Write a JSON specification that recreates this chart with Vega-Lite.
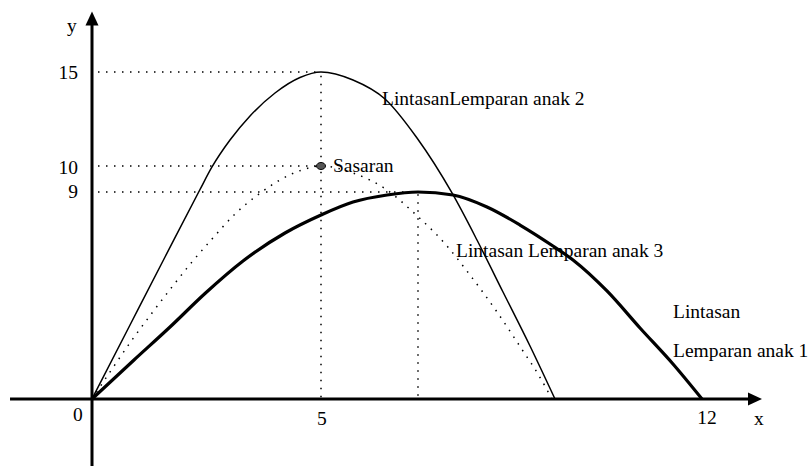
{
  "$schema": "https://vega.github.io/schema/vega-lite/v6.json",
  "width": 809,
  "height": 466,
  "padding": 0,
  "autosize": {"type": "none"},
  "background": "white",
  "config": {
    "view": {"stroke": null},
    "text": {"font": "Liberation Serif", "fontSize": 19.5, "color": "black", "baseline": "alphabetic"}
  },
  "encoding": {
    "x": {"field": "x", "type": "quantitative", "axis": null,
          "scale": {"domain": [0, 5, 12], "range": [92, 321, 702], "nice": false, "zero": false}},
    "y": {"field": "y", "type": "quantitative", "axis": null,
          "scale": {"domain": [0, 9, 10, 15], "range": [399, 192, 166, 72], "nice": false, "zero": false}}
  },
  "layer": [
    {
      "data": {"values": [
        {"x": 0.131, "y": 15, "x2": 5, "y2": 15},
        {"x": 0.131, "y": 10, "x2": 4.9, "y2": 10},
        {"x": 0.131, "y": 9, "x2": 6.782, "y2": 9},
        {"x": 5, "y": 14.8, "x2": 5, "y2": 0},
        {"x": 6.782, "y": 8.9, "x2": 6.782, "y2": 0}
      ]},
      "mark": {"type": "rule", "color": "black", "strokeWidth": 1.5, "strokeDash": [1.5, 6.5]},
      "encoding": {"x2": {"field": "x2"}, "y2": {"field": "y2"}}
    },
    {
      "data": {"values": [
        {"x": -1.79, "y": 0, "x2": 12.9, "y2": 0},
        {"x": 0, "y": -2.95, "x2": 0, "y2": 17.5}
      ]},
      "mark": {"type": "rule", "color": "black", "strokeWidth": 3},
      "encoding": {"x2": {"field": "x2"}, "y2": {"field": "y2"}}
    },
    {
      "data": {"values": [{"x": 12.974, "y": 0}]},
      "mark": {"type": "point", "shape": "M-1,-0.93L1,0L-1,0.93Z", "size": 196, "filled": true, "color": "black", "opacity": 1}
    },
    {
      "data": {"values": [{"x": 0, "y": 17.846}]},
      "mark": {"type": "point", "shape": "M-0.93,1L0,-1L0.93,1Z", "size": 196, "filled": true, "color": "black", "opacity": 1}
    },
    {
      "data": {"values": [
        {"x": 0, "y": 0}, {"x": 0.83, "y": 3.217}, {"x": 1.594, "y": 6.174}, {"x": 2.358, "y": 9.096},
        {"x": 2.62, "y": 9.962}, {"x": 3.013, "y": 11.38}, {"x": 3.45, "y": 12.66}, {"x": 3.996, "y": 13.883},
        {"x": 4.541, "y": 14.707}, {"x": 5, "y": 15},
        {"x": 5.588, "y": 14.574}, {"x": 6.176, "y": 13.564}, {"x": 6.764, "y": 11.489}, {"x": 7.407, "y": 8.957},
        {"x": 7.866, "y": 6.913}, {"x": 8.344, "y": 4.652}, {"x": 8.84, "y": 2.304}, {"x": 9.299, "y": 0}
      ]},
      "mark": {"type": "line", "interpolate": "monotone", "color": "black", "strokeWidth": 1.5}
    },
    {
      "data": {"values": [
        {"x": 0, "y": 0}, {"x": 0.437, "y": 1.304}, {"x": 0.873, "y": 2.565}, {"x": 1.31, "y": 3.739},
        {"x": 1.747, "y": 4.87}, {"x": 2.183, "y": 5.957}, {"x": 2.62, "y": 6.957}, {"x": 3.122, "y": 8.043},
        {"x": 3.646, "y": 8.913}, {"x": 4.083, "y": 9.442}, {"x": 4.585, "y": 9.846}, {"x": 5, "y": 10},
        {"x": 5.588, "y": 9.731}, {"x": 6.213, "y": 9.077}, {"x": 6.69, "y": 8.13}, {"x": 7.315, "y": 6.652},
        {"x": 7.737, "y": 5.391}, {"x": 8.234, "y": 3.783}, {"x": 8.711, "y": 2.087}, {"x": 8.987, "y": 1.087},
        {"x": 9.244, "y": 0}
      ]},
      "mark": {"type": "line", "interpolate": "monotone", "color": "black", "strokeWidth": 1.5, "strokeDash": [1.5, 6.5]}
    },
    {
      "data": {"values": [
        {"x": 0, "y": 0}, {"x": 0.917, "y": 1.696}, {"x": 1.703, "y": 3.13}, {"x": 2.467, "y": 4.587},
        {"x": 3.297, "y": 6.0}, {"x": 4.214, "y": 7.217}, {"x": 5, "y": 8.0}, {"x": 5.588, "y": 8.565},
        {"x": 6.213, "y": 8.87}, {"x": 6.782, "y": 9}, {"x": 7.425, "y": 8.87}, {"x": 8.05, "y": 8.348},
        {"x": 8.656, "y": 7.565}, {"x": 9.262, "y": 6.652}, {"x": 9.63, "y": 6.043},
        {"x": 10.254, "y": 4.696}, {"x": 10.861, "y": 3.087}, {"x": 11.467, "y": 1.522}, {"x": 12, "y": 0}
      ]},
      "mark": {"type": "line", "interpolate": "monotone", "color": "black", "strokeWidth": 3.2}
    },
    {
      "data": {"values": [{"x": 5, "y": 10}]},
      "mark": {"type": "point", "shape": "M-1,0A1,0.78,0,1,0,1,0A1,0.78,0,1,0,-1,0Z", "size": 81, "filled": true, "fill": "#555555", "stroke": "black", "strokeWidth": 1, "opacity": 1}
    },
    {
      "data": {"values": [
        {"x": 6.121, "y": 13.245, "label": "LintasanLemparan anak 2"},
        {"x": 5.22, "y": 9.769, "label": "Sasaran"},
        {"x": 7.48, "y": 6.174, "label": "Lintasan Lemparan anak 3"},
        {"x": 11.467, "y": 3.522, "label": "Lintasan"},
        {"x": 11.467, "y": 1.826, "label": "Lemparan anak 1"}
      ]},
      "mark": {"type": "text", "align": "left"},
      "encoding": {"text": {"field": "label"}}
    },
    {
      "data": {"values": [
        {"x": -0.306, "y": -0.957, "label": "0"},
        {"x": 5.018, "y": -1.13, "label": "5"},
        {"x": 12.092, "y": -1.087, "label": "12"},
        {"x": 13.047, "y": -1.13, "label": "x"},
        {"x": -0.437, "y": 17.128, "label": "y"}
      ]},
      "mark": {"type": "text", "align": "center"},
      "encoding": {"text": {"field": "label"}}
    },
    {
      "data": {"values": [
        {"x": -0.306, "y": 14.628, "label": "15"},
        {"x": -0.306, "y": 9.692, "label": "10"},
        {"x": -0.306, "y": 8.739, "label": "9"}
      ]},
      "mark": {"type": "text", "align": "right"},
      "encoding": {"text": {"field": "label"}}
    }
  ]
}
